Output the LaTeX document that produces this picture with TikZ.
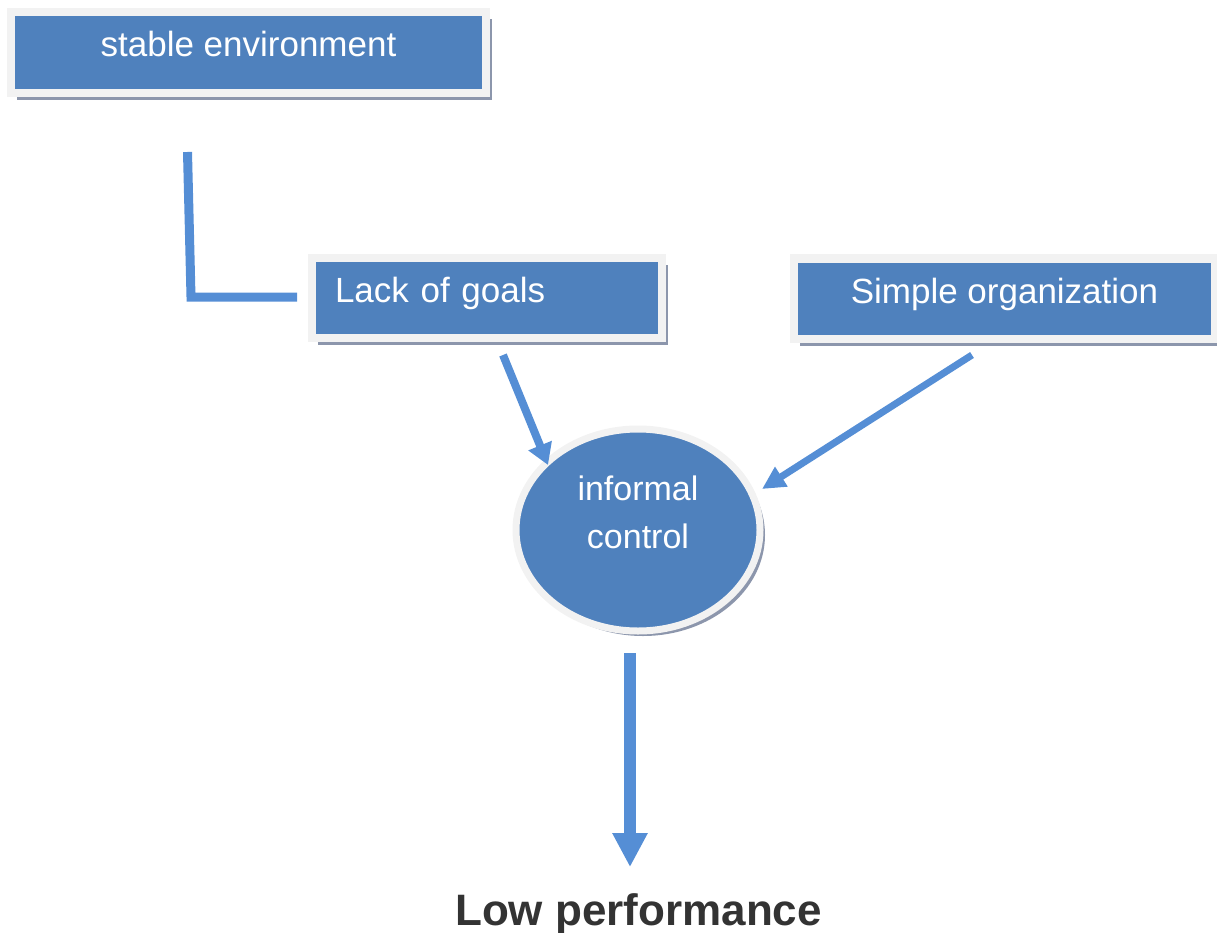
\documentclass[tikz,border=0pt]{standalone}
\usepackage{fontspec}
\setmainfont{Liberation Sans}
\usetikzlibrary{arrows.meta,shapes.geometric,shadows,calc}
\definecolor{boxblue}{RGB}{79,129,189}
\definecolor{arrowblue}{RGB}{85,142,213}
\definecolor{framegray}{RGB}{242,242,242}
\definecolor{shadowc}{RGB}{140,150,172}
\definecolor{darktext}{RGB}{51,51,51}
\begin{document}
\begin{tikzpicture}[x=1pt,y=-1pt,
  boxstyle/.style={rectangle, fill=boxblue, draw=framegray, line width=8pt,
    text=white, font=\fontsize{35}{40}\selectfont, inner sep=0pt, outer sep=0pt,
    text height=24pt, text depth=15pt,
    drop shadow={shadow xshift=6pt, shadow yshift=-7pt, fill=shadowc, opacity=1}},
  ringstyle/.style={ellipse, fill=boxblue, draw=framegray, line width=7pt,
    inner sep=0pt, outer sep=0pt,
    drop shadow={shadow xshift=5pt, shadow yshift=-5pt, fill=shadowc, opacity=1}},
  arr/.style={draw=arrowblue, fill=arrowblue, line cap=butt, line join=miter},
  inner/.style={font=\fontsize{34}{48}\selectfont, text=white, align=center, inner sep=0pt, outer sep=0pt},
  result/.style={font=\bfseries\fontsize{44}{50}\selectfont, text=darktext, inner sep=0pt, outer sep=0pt}
]
\useasboundingbox (0,0) rectangle (1217,933);

\node[boxstyle, minimum width=475pt, minimum height=81pt] (se) at (248.5,52.5) {stable environment};
\node[boxstyle, minimum width=350pt, minimum height=80pt, text width=304pt, align=left] (lg) at (487,298) {Lack of goals};
\node[boxstyle, minimum width=421pt, minimum height=80pt] (so) at (1004.5,298.5) {Simple organization};

\node[ringstyle, minimum width=244pt, minimum height=202pt] (ic) at (638,530) {};
\node[inner] (ict) at (638,512) {informal\\control};

\node[result, anchor=base] (lp) at (638.5,925) {Low performance};

% connectors
\draw[arr, fill=none, line width=9pt] ($(se.south)+(-61,59)$) -- ($(lg.west)+(-121,-1)$) -- ($(lg.west)+(-15,-1)$);
\draw[arr, line width=8pt, -{Triangle[width=24pt,length=21pt]}] ($(lg.south)+(16,17)$) -- ($(ic.center)+(-90,-65)$);
\draw[arr, line width=7pt, -{Triangle[width=22pt,length=23pt]}] ($(so.south)+(-32.5,16.5)$) -- ($(ic.center)+(124,-41)$);
\draw[arr, line width=12pt, -{Triangle[width=33pt,length=34pt]}] ($(ic.south)+(-8,22)$) -- ($(lp.north)+(-8.5,-26)$);
\end{tikzpicture}
\end{document}
